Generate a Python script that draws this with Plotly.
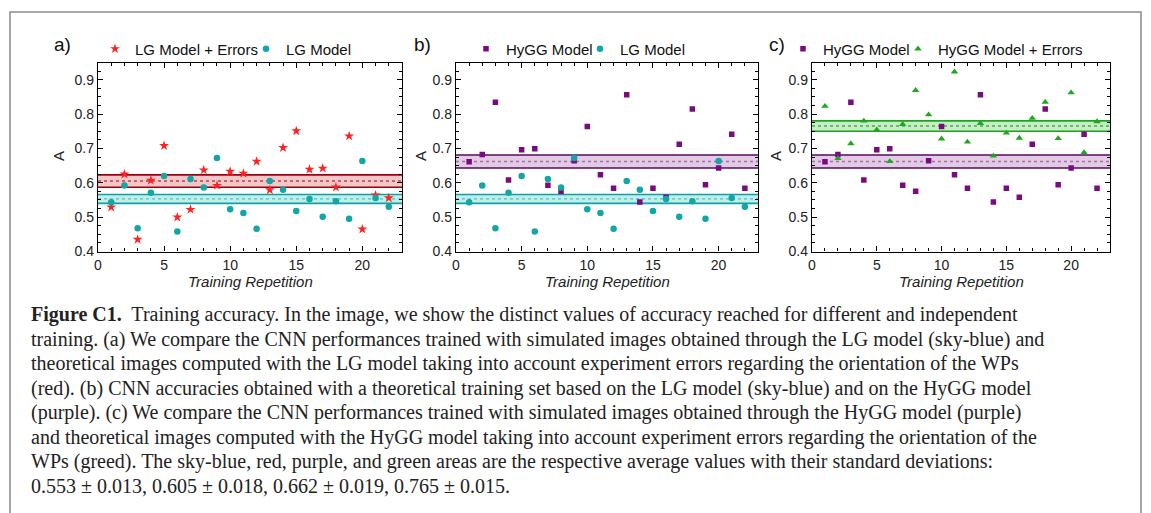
import plotly.graph_objects as go

# ---------------- data ----------------
reps = list(range(1, 23))

lg_errors = [0.529, 0.625, 0.435, 0.607, 0.708, 0.500, 0.522, 0.637, 0.592, 0.633, 0.627,
             0.662, 0.579, 0.702, 0.751, 0.639, 0.642, 0.587, 0.736, 0.465, 0.564, 0.556]
lg_model = [0.543, 0.592, 0.468, 0.571, 0.620, 0.458, 0.611, 0.586, 0.672, 0.523, 0.512,
            0.466, 0.605, 0.580, 0.518, 0.553, 0.501, 0.546, 0.495, 0.663, 0.556, 0.530]
hygg_model = [0.661, 0.682, 0.834, 0.608, 0.696, 0.699, 0.593, 0.575, 0.664, 0.764, 0.623,
              0.584, 0.856, 0.544, 0.584, 0.558, 0.712, 0.815, 0.594, 0.643, 0.741, 0.584]
hygg_errors = [0.823, 0.671, 0.714, 0.780, 0.754, 0.662, 0.770, 0.869, 0.798, 0.728, 0.923,
               0.719, 0.773, 0.678, 0.745, 0.730, 0.788, 0.835, 0.729, 0.862, 0.688, 0.778]

# average values and standard deviations (caption)
band_names = ["sky-blue", "red", "purple", "green"]
band_means = [0.553, 0.605, 0.662, 0.765]
band_stds = [0.013, 0.018, 0.019, 0.015]

panel_labels = ["a)", "b)", "c)"]
x_ticks = [0, 5, 10, 15, 20]
y_ticks = [0.4, 0.5, 0.6, 0.7, 0.8, 0.9]
x_title = "Training Repetition"
y_title = "A"

caption_lines = [
    "<b>Figure C1.</b>  Training accuracy. In the image, we show the distinct values of accuracy reached for different and independent",
    "training. (a) We compare the CNN performances trained with simulated images obtained through the LG model (sky-blue) and",
    "theoretical images computed with the LG model taking into account experiment errors regarding the orientation of the WPs",
    "(red). (b) CNN accuracies obtained with a theoretical training set based on the LG model (sky-blue) and on the HyGG model",
    "(purple). (c) We compare the CNN performances trained with simulated images obtained through the HyGG model (purple)",
    "and theoretical images computed with the HyGG model taking into account experiment errors regarding the orientation of the",
    "WPs (greed). The sky-blue, red, purple, and green areas are the respective average values with their standard deviations:",
    "0.553 ± 0.013, 0.605 ± 0.018, 0.662 ± 0.019, 0.765 ± 0.015.",
]

# ---------------- styles ----------------
OFF = 8                      # page body margin
W, H = 1151 - OFF, 513 - OFF
RED = "#ff2222"
TEAL = "#12a6a6"
PURPLE = "#7a0a80"
GREEN = "#1ea81e"

band_style = {
    "sky-blue": dict(fill="rgba(120,215,215,0.45)", edge="#10a2a2", mid="#4cc4c4"),
    "red": dict(fill="rgba(225,130,130,0.45)", edge="#a00010", mid="#c04050"),
    "purple": dict(fill="rgba(190,140,195,0.45)", edge="#5a0a60", mid="#a070a8"),
    "green": dict(fill="rgba(130,215,130,0.45)", edge="#22a022", mid="#3cb83c"),
}

def px_x(p):
    return (p - OFF) / W

def px_y(p):
    return 1 - (p - OFF) / H

domains_x = [(px_x(98), px_x(402)), (px_x(456), px_x(758)), (px_x(812), px_x(1110))]
domain_y = (px_y(251.5), px_y(62.5))

fig = go.Figure()

def add_series(ax, y, name, symbol, color, size, legend):
    fig.add_trace(go.Scatter(
        x=reps, y=y, mode="markers", name=name,
        marker=dict(symbol=symbol, color=color, size=size, line=dict(width=0)),
        xaxis="x" + ("" if ax == 1 else str(ax)), yaxis="y" + ("" if ax == 1 else str(ax)),
        legend=legend, showlegend=True,
    ))

# panel a
add_series(1, lg_errors, "LG Model + Errors", "star", RED, 7.5, "legend")
add_series(1, lg_model, "LG Model", "circle", TEAL, 6.5, "legend2")
# panel b
add_series(2, hygg_model, "HyGG Model", "square", PURPLE, 5.5, "legend3")
add_series(2, lg_model, "LG Model", "circle", TEAL, 6.5, "legend4")
# panel c
add_series(3, hygg_model, "HyGG Model", "square", PURPLE, 5.5, "legend5")
add_series(3, hygg_errors, "HyGG Model + Errors", "triangle-up", GREEN, 6.5, "legend6")

shapes = []
def add_band(ax, bname):
    i = band_names.index(bname)
    m, s = band_means[i], band_stds[i]
    st = band_style[bname]
    xr = "x domain" if ax == 1 else f"x{ax} domain"
    yr = "y" if ax == 1 else f"y{ax}"
    shapes.append(dict(type="rect", xref=xr, yref=yr, x0=0, x1=1, y0=m - s, y1=m + s,
                       fillcolor=st["fill"], line=dict(width=0), layer="below"))
    for v in (m - s, m + s):
        shapes.append(dict(type="line", xref=xr, yref=yr, x0=0, x1=1, y0=v, y1=v,
                           line=dict(color=st["edge"], width=1.6), layer="below"))
    shapes.append(dict(type="line", xref=xr, yref=yr, x0=0, x1=1, y0=m, y1=m,
                       line=dict(color=st["mid"], width=1.4, dash="dot"), layer="below"))

add_band(1, "red")
add_band(1, "sky-blue")
add_band(2, "purple")
add_band(2, "sky-blue")
add_band(3, "green")
add_band(3, "purple")

# outer frame (open at bottom)
shapes.append(dict(type="path", xref="paper", yref="paper",
                   path=f"M {px_x(10)} -0.05 L {px_x(10)} {px_y(12)} L {px_x(1141)} {px_y(12)} L {px_x(1141)} -0.05",
                   line=dict(color="#8a8a8a", width=1.5)))

tickfont = dict(family="Liberation Sans, Arial", size=14, color="#222")
axis_common = dict(
    showline=True, linecolor="black", linewidth=1.4, mirror="allticks",
    ticks="inside", ticklen=5, tickwidth=1, tickcolor="black",
    showgrid=False, zeroline=False, tickfont=tickfont,
)

layout = dict(width=W, height=H, margin=dict(l=0, r=0, t=0, b=0, autoexpand=False),
              paper_bgcolor="white", plot_bgcolor="white", shapes=shapes,
              font=dict(family="Liberation Sans, Arial", color="#222"))

annotations = []
title_x = [58, 420, 775]
label_x = [52, 412, 767]
for k in range(3):
    sfx = "" if k == 0 else str(k + 1)
    layout["xaxis" + sfx] = dict(axis_common, domain=list(domains_x[k]), range=[0, 23],
                                 tickvals=x_ticks, anchor="y" + sfx,
                                 minor=dict(dtick=1, ticks="inside", ticklen=3, tickcolor="black"))
    layout["yaxis" + sfx] = dict(axis_common, domain=list(domain_y), range=[0.4, 0.95],
                                 tickvals=y_ticks, anchor="x" + sfx,
                                 minor=dict(dtick=0.025, ticks="inside", ticklen=3, tickcolor="black"))
    cx = (domains_x[k][0] + domains_x[k][1]) / 2
    annotations.append(dict(text=f"<i>{x_title}</i>", x=cx, y=px_y(281), xref="paper", yref="paper",
                            xanchor="center", yanchor="middle", showarrow=False,
                            font=dict(family="Liberation Sans, Arial", size=15, color="#222")))
    annotations.append(dict(text=y_title, x=px_x(title_x[k]), y=px_y(156), xref="paper", yref="paper",
                            xanchor="center", yanchor="middle", showarrow=False, textangle=-90,
                            font=dict(family="Liberation Sans, Arial", size=15, color="#222")))
    annotations.append(dict(text=panel_labels[k], x=px_x(label_x[k]), y=px_y(45), xref="paper", yref="paper",
                            showarrow=False, xanchor="left", yanchor="middle",
                            font=dict(family="Liberation Sans, Arial", size=19, color="#111")))

line_gap = 24.57
for i, line in enumerate(caption_lines):
    annotations.append(dict(text=line, x=px_x(29), y=px_y(314.5 + i * line_gap), xref="paper", yref="paper",
                            xanchor="left", yanchor="middle", align="left", showarrow=False,
                            font=dict(family="Liberation Serif, Times New Roman", size=20, color="#222")))
layout["annotations"] = annotations

leg_common = dict(orientation="h", xanchor="left", yanchor="middle", bgcolor="rgba(0,0,0,0)",
                  font=dict(family="Liberation Sans, Arial", size=15, color="#111"),
                  itemwidth=30, tracegroupgap=0, itemclick=False, itemdoubleclick=False)
legend_left = [95, 246, 466, 580, 783, 898]
for j, lx in enumerate(legend_left):
    key = "legend" if j == 0 else f"legend{j + 1}"
    layout[key] = dict(leg_common, x=px_x(lx), y=px_y(49))

fig.update_layout(**layout)
fig.write_html("out.html")
